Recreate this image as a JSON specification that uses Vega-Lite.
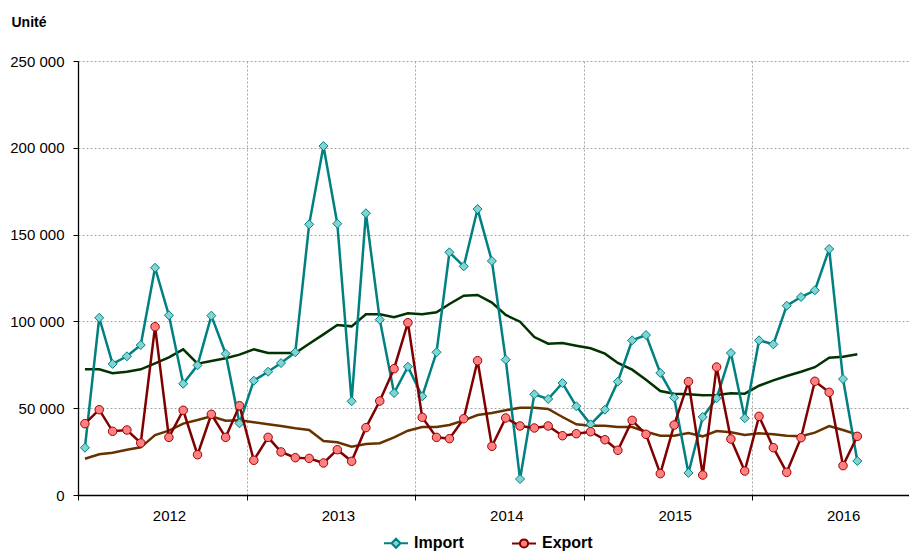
{
  "$schema": "https://vega.github.io/schema/vega-lite/v6.json",
  "width": 831,
  "height": 434,
  "autosize": {"type": "none"},
  "padding": {"left": 78, "top": 61, "right": 0, "bottom": 57},
  "background": "white",
  "data": {"values": [
    {"d": "2012-01-16", "imp": 27250, "exp": 41100, "impMA": 72400, "expMA": 20900},
    {"d": "2012-02-16", "imp": 102100, "exp": 49150, "impMA": 72400, "expMA": 23450},
    {"d": "2012-03-16", "imp": 75500, "exp": 36700, "impMA": 70100, "expMA": 24400},
    {"d": "2012-04-16", "imp": 79900, "exp": 37450, "impMA": 71000, "expMA": 26100},
    {"d": "2012-05-16", "imp": 86400, "exp": 29950, "impMA": 72400, "expMA": 27450},
    {"d": "2012-06-16", "imp": 130900, "exp": 96950, "impMA": 75850, "expMA": 34550},
    {"d": "2012-07-16", "imp": 103500, "exp": 33200, "impMA": 79300, "expMA": 37050},
    {"d": "2012-08-16", "imp": 64100, "exp": 48800, "impMA": 83900, "expMA": 41100},
    {"d": "2012-09-16", "imp": 74700, "exp": 23200, "impMA": 75650, "expMA": 43200},
    {"d": "2012-10-16", "imp": 103300, "exp": 46500, "impMA": 77200, "expMA": 45300},
    {"d": "2012-11-16", "imp": 81400, "exp": 33200, "impMA": 78750, "expMA": 42800},
    {"d": "2012-12-16", "imp": 41300, "exp": 51450, "impMA": 80850, "expMA": 43000},
    {"d": "2013-01-16", "imp": 65850, "exp": 20000, "impMA": 83900, "expMA": 41900},
    {"d": "2013-02-16", "imp": 71000, "exp": 33200, "impMA": 81800, "expMA": 40700},
    {"d": "2013-03-16", "imp": 76000, "exp": 24800, "impMA": 81800, "expMA": 39750},
    {"d": "2013-04-16", "imp": 82200, "exp": 21500, "impMA": 81800, "expMA": 38400},
    {"d": "2013-05-16", "imp": 155900, "exp": 21100, "impMA": 87150, "expMA": 37450},
    {"d": "2013-06-16", "imp": 201000, "exp": 18450, "impMA": 92550, "expMA": 31100},
    {"d": "2013-07-16", "imp": 156300, "exp": 26100, "impMA": 97900, "expMA": 30350},
    {"d": "2013-08-16", "imp": 54000, "exp": 19400, "impMA": 97150, "expMA": 27850},
    {"d": "2013-09-16", "imp": 162300, "exp": 38800, "impMA": 104100, "expMA": 29400},
    {"d": "2013-10-16", "imp": 101000, "exp": 54150, "impMA": 104100, "expMA": 29800},
    {"d": "2013-11-16", "imp": 58750, "exp": 72750, "impMA": 102350, "expMA": 33200},
    {"d": "2013-12-16", "imp": 73900, "exp": 99250, "impMA": 104650, "expMA": 37050},
    {"d": "2014-01-16", "imp": 56850, "exp": 44750, "impMA": 104100, "expMA": 39150},
    {"d": "2014-02-16", "imp": 82200, "exp": 33200, "impMA": 105250, "expMA": 39150},
    {"d": "2014-03-16", "imp": 139800, "exp": 32450, "impMA": 110000, "expMA": 40300},
    {"d": "2014-04-16", "imp": 131700, "exp": 43950, "impMA": 114800, "expMA": 43000},
    {"d": "2014-05-16", "imp": 164700, "exp": 77350, "impMA": 115200, "expMA": 46100},
    {"d": "2014-06-16", "imp": 134800, "exp": 28050, "impMA": 110800, "expMA": 47250},
    {"d": "2014-07-16", "imp": 77950, "exp": 44350, "impMA": 103700, "expMA": 48800},
    {"d": "2014-08-16", "imp": 9200, "exp": 39750, "impMA": 99850, "expMA": 50300},
    {"d": "2014-09-16", "imp": 58000, "exp": 38600, "impMA": 91000, "expMA": 50300},
    {"d": "2014-10-16", "imp": 55300, "exp": 39750, "impMA": 87150, "expMA": 49550},
    {"d": "2014-11-16", "imp": 64500, "exp": 34150, "impMA": 87550, "expMA": 44950},
    {"d": "2014-12-16", "imp": 51100, "exp": 35300, "impMA": 86000, "expMA": 40700},
    {"d": "2015-01-16", "imp": 40700, "exp": 36450, "impMA": 84500, "expMA": 39950},
    {"d": "2015-02-16", "imp": 49150, "exp": 31850, "impMA": 81400, "expMA": 39950},
    {"d": "2015-03-16", "imp": 65300, "exp": 25750, "impMA": 76050, "expMA": 39150},
    {"d": "2015-04-16", "imp": 89100, "exp": 43000, "impMA": 72200, "expMA": 39150},
    {"d": "2015-05-16", "imp": 92150, "exp": 34950, "impMA": 66400, "expMA": 36450},
    {"d": "2015-06-16", "imp": 70300, "exp": 12300, "impMA": 59900, "expMA": 34150},
    {"d": "2015-07-16", "imp": 56050, "exp": 40300, "impMA": 58350, "expMA": 34150},
    {"d": "2015-08-16", "imp": 12700, "exp": 65300, "impMA": 58000, "expMA": 35700},
    {"d": "2015-09-16", "imp": 44950, "exp": 11500, "impMA": 57400, "expMA": 33800},
    {"d": "2015-10-16", "imp": 55700, "exp": 73700, "impMA": 57600, "expMA": 36850},
    {"d": "2015-11-16", "imp": 81800, "exp": 32250, "impMA": 58550, "expMA": 36100},
    {"d": "2015-12-16", "imp": 44200, "exp": 13800, "impMA": 58350, "expMA": 34550},
    {"d": "2016-01-16", "imp": 89100, "exp": 45300, "impMA": 62950, "expMA": 35500},
    {"d": "2016-02-16", "imp": 86800, "exp": 27250, "impMA": 66050, "expMA": 34950},
    {"d": "2016-03-16", "imp": 109050, "exp": 13050, "impMA": 68550, "expMA": 34150},
    {"d": "2016-04-16", "imp": 114050, "exp": 33000, "impMA": 71000, "expMA": 33800},
    {"d": "2016-05-16", "imp": 117900, "exp": 65500, "impMA": 73600, "expMA": 35900},
    {"d": "2016-06-16", "imp": 141700, "exp": 59150, "impMA": 79100, "expMA": 39750},
    {"d": "2016-07-16", "imp": 66800, "exp": 16900, "impMA": 79700, "expMA": 37450},
    {"d": "2016-08-16", "imp": 19600, "exp": 33800, "impMA": 81050, "expMA": 34750}
  ]},
  "transform": [{"fold": ["imp", "exp", "impMA", "expMA"], "as": ["s", "v"]}],
  "encoding": {
    "x": {
      "field": "d", "type": "temporal",
      "scale": {"type": "utc", "domain": [{"year": 2012, "month": 1, "date": 1, "utc": true}, {"year": 2016, "month": 12, "date": 6, "utc": true}]},
      "axis": {
        "title": null,
        "values": [
          {"year": 2012, "month": 1, "date": 1, "utc": true},
          {"year": 2013, "month": 1, "date": 1, "utc": true},
          {"year": 2014, "month": 1, "date": 1, "utc": true},
          {"year": 2015, "month": 1, "date": 1, "utc": true},
          {"year": 2016, "month": 1, "date": 1, "utc": true}
        ],
        "labelExpr": "utcFormat(datum.value, '%Y')",
        "labelOffset": 91,
        "labelFlush": false,
        "labelOverlap": false,
        "labelAlign": "center",
        "labelPadding": 8,
        "tickSize": 5,
        "grid": true
      }
    },
    "y": {
      "field": "v", "type": "quantitative",
      "scale": {"domain": [0, 250000], "nice": false},
      "axis": {
        "title": "Unité",
        "titleAngle": 0,
        "titleAlign": "left",
        "titleBaseline": "alphabetic",
        "titleX": -67,
        "titleY": -35,
        "titleFont": "Liberation Sans",
        "titleFontSize": 14,
        "titleFontWeight": "bold",
        "titleColor": "#000000",
        "values": [0, 50000, 100000, 150000, 200000, 250000],
        "labelExpr": "replace(format(datum.value, ','), ',', ' ')",
        "labelPadding": 9,
        "tickSize": 5,
        "grid": true
      }
    }
  },
  "layer": [
    {"transform": [{"filter": "datum.s === 'impMA'"}], "mark": {"type": "line", "color": "#003300", "strokeWidth": 2.5}},
    {"transform": [{"filter": "datum.s === 'expMA'"}], "mark": {"type": "line", "color": "#663300", "strokeWidth": 2.5}},
    {"transform": [{"filter": "datum.s === 'imp'"}], "mark": {"type": "line", "color": "#008080", "strokeWidth": 2.5}},
    {"transform": [{"filter": "datum.s === 'imp'"}], "mark": {"type": "point", "shape": "diamond", "size": 81, "filled": true, "fill": "#80D4D4", "stroke": "#008080", "strokeWidth": 1, "opacity": 1}},
    {"transform": [{"filter": "datum.s === 'exp'"}], "mark": {"type": "line", "color": "#800000", "strokeWidth": 2.5}},
    {"transform": [{"filter": "datum.s === 'exp'"}], "mark": {"type": "point", "shape": "circle", "size": 72, "filled": true, "fill": "#FF8080", "stroke": "#A00000", "strokeWidth": 1, "opacity": 1}},
    {
      "transform": [{"filter": "false"}],
      "mark": {"type": "point", "filled": true, "strokeWidth": 2, "opacity": 1},
      "encoding": {
        "shape": {"field": "lab", "type": "nominal", "title": null, "scale": {"domain": ["Import", "Export"], "range": ["M-1,0L-0.375,0M0.375,0L1,0M0,-0.375L0.375,0L0,0.375L-0.375,0Z", "M-1,0L-0.34,0M0.34,0L1,0M0.34,0A0.34,0.34,0,1,1,-0.34,0A0.34,0.34,0,1,1,0.34,0Z"]}},
        "fill": {"field": "lab", "type": "nominal", "title": null, "scale": {"domain": ["Import", "Export"], "range": ["#80D4D4", "#FF8080"]}},
        "stroke": {"field": "lab", "type": "nominal", "title": null, "scale": {"domain": ["Import", "Export"], "range": ["#008080", "#800000"]}}
      }
    }
  ],
  "config": {
    "view": {"stroke": null},
    "axis": {
      "labelFont": "Liberation Sans",
      "labelFontSize": 15,
      "labelColor": "#000000",
      "domainColor": "#000000",
      "domainWidth": 1.3,
      "tickColor": "#000000",
      "tickWidth": 1,
      "gridColor": "#A6A6A6",
      "gridDash": [2, 2],
      "gridWidth": 1
    },
    "legend": {
      "orient": "none",
      "legendX": 305,
      "legendY": 469,
      "direction": "horizontal",
      "padding": 0,
      "labelFont": "Liberation Sans",
      "labelFontSize": 16,
      "labelFontWeight": "bold",
      "labelColor": "#000000",
      "labelOffset": 5,
      "symbolSize": 576,
      "symbolStrokeWidth": 2,
      "symbolOpacity": 1,
      "columnPadding": 44
    }
  }
}
